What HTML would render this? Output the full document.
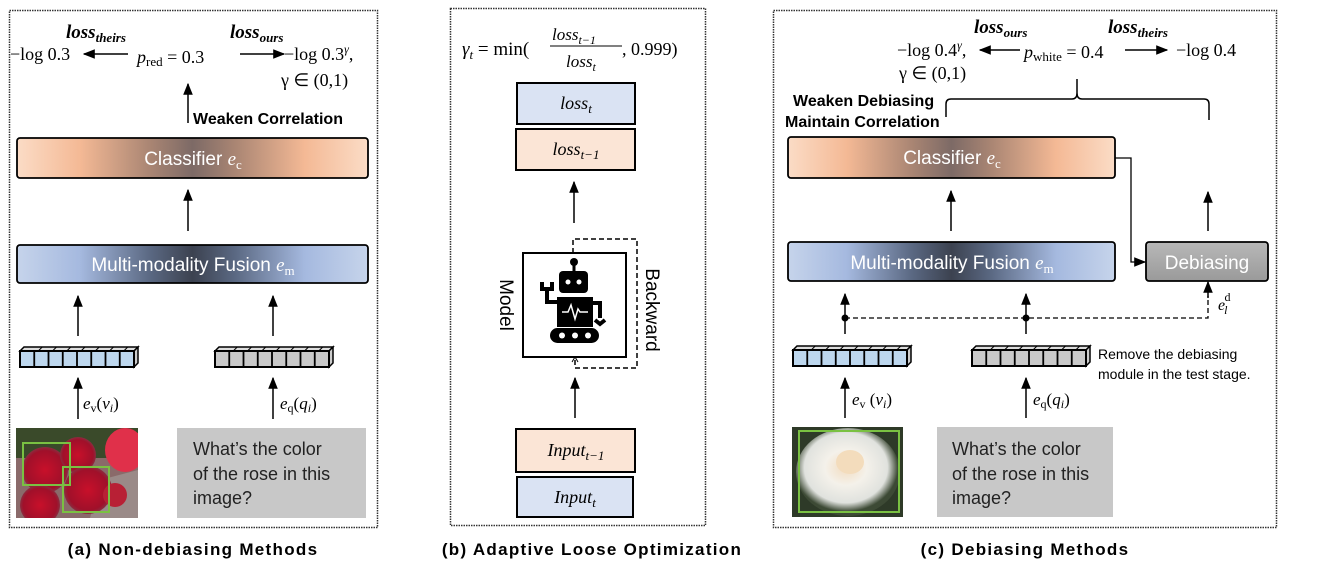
<!DOCTYPE html>
<html><head><meta charset="utf-8"><style>
html,body{margin:0;padding:0;background:#fff;}
svg{display:block;}
.m{font-family:"Liberation Serif",serif;font-style:italic;}
.r{font-family:"Liberation Serif",serif;}
.s{font-family:"Liberation Sans",sans-serif;}
.cap{font-family:"Liberation Sans",sans-serif;font-size:17px;font-weight:bold;letter-spacing:1.3px;}
</style></head><body>
<svg width="1333" height="569" viewBox="0 0 1333 569" xmlns="http://www.w3.org/2000/svg">
<defs>
<marker id="ah2" viewBox="0 0 10 10" refX="9" refY="5" markerWidth="12" markerHeight="12" orient="auto" markerUnits="userSpaceOnUse"><path d="M0,1 L10,5 L0,9 z" fill="#000"/></marker>
<linearGradient id="gc" x1="0" x2="1" y1="0" y2="0">
<stop offset="0" stop-color="#fbdcc6"/><stop offset="0.18" stop-color="#f4b995"/><stop offset="0.38" stop-color="#a98573"/><stop offset="0.5" stop-color="#7d6a66"/><stop offset="0.62" stop-color="#a98573"/><stop offset="0.82" stop-color="#f4b995"/><stop offset="1" stop-color="#fbdcc6"/></linearGradient>
<linearGradient id="gf" x1="0" x2="1" y1="0" y2="0">
<stop offset="0" stop-color="#c6d4eb"/><stop offset="0.18" stop-color="#a5b9df"/><stop offset="0.38" stop-color="#5a6882"/><stop offset="0.5" stop-color="#3c4250"/><stop offset="0.62" stop-color="#5a6882"/><stop offset="0.82" stop-color="#a5b9df"/><stop offset="1" stop-color="#c6d4eb"/></linearGradient>
<linearGradient id="gd" x1="0" x2="0" y1="0" y2="1"><stop offset="0" stop-color="#b8b8b8"/><stop offset="1" stop-color="#9a9a9a"/></linearGradient>
<g id="vec">
<path d="M0,4 L4,0 L118,0 L114,4 z" fill="#ddd" stroke="#000" stroke-width="1.5"/>
<path d="M114,4 L118,0 L118,16 L114,20 z" fill="#ccc" stroke="#000" stroke-width="1.5"/>
<rect x="0" y="4" width="114" height="16" fill="currentColor" stroke="#000" stroke-width="2"/>
<path d="M14.25,4v16M28.5,4v16M42.75,4v16M57,4v16M71.25,4v16M85.5,4v16M99.75,4v16" stroke="#000" stroke-width="1.8"/>
<path d="M18.25,4l4,-4M32.5,4l4,-4M46.75,4l4,-4M61,4l4,-4M75.25,4l4,-4M89.5,4l4,-4M103.75,4l4,-4" stroke="#000" stroke-width="1"/>
</g>
<radialGradient id="rose" cx="0.5" cy="0.5" r="0.6"><stop offset="0" stop-color="#c8102a"/><stop offset="0.7" stop-color="#a0102a"/><stop offset="1" stop-color="#70505a"/></radialGradient>
<radialGradient id="wrose" cx="0.48" cy="0.45" r="0.5"><stop offset="0" stop-color="#f2dcc0"/><stop offset="0.4" stop-color="#f4f1ea"/><stop offset="0.8" stop-color="#e0e2de"/><stop offset="1" stop-color="#3d4a35"/></radialGradient>
</defs>

<!-- ========== Panel A ========== -->
<rect x="9.5" y="10.5" width="368" height="517" fill="none" stroke="#333" stroke-width="1.5" stroke-dasharray="1.5,1"/>
<text x="66" y="38" class="m" font-size="19" font-weight="bold">loss<tspan font-size="13" dy="4">theirs</tspan></text>
<text x="230" y="38" class="m" font-size="19" font-weight="bold">loss<tspan font-size="13" dy="4">ours</tspan></text>
<text x="10" y="60" class="r" font-size="18">−log 0.3</text>
<line x1="128" y1="54" x2="84" y2="54" stroke="#000" stroke-width="1.5" marker-end="url(#ah2)"/>
<text x="137" y="63" class="m" font-size="18">p<tspan class="r" font-style="normal" font-size="13" dy="3">red</tspan><tspan class="r" font-style="normal" font-size="18" dy="-3"> = 0.3</tspan></text>
<line x1="240" y1="54" x2="284" y2="54" stroke="#000" stroke-width="1.5" marker-end="url(#ah2)"/>
<text x="284" y="60" class="r" font-size="18">−log 0.3<tspan class="m" font-size="12" dy="-7">γ</tspan><tspan dy="7">,</tspan></text>
<text x="281" y="86" class="r" font-size="18">γ ∈ (0,1)</text>
<line x1="188" y1="123" x2="188" y2="84" stroke="#000" stroke-width="1.5" marker-end="url(#ah2)"/>
<text x="193" y="124" class="s" font-size="16" font-weight="bold">Weaken Correlation</text>
<rect x="17" y="138" width="351" height="40" rx="3" fill="url(#gc)" stroke="#000" stroke-width="1.8"/>
<text x="193" y="165" class="s" font-size="19" fill="#fff" text-anchor="middle">Classifier <tspan class="m">e</tspan><tspan class="r" font-size="13" dy="4">c</tspan></text>
<line x1="188" y1="231" x2="188" y2="190" stroke="#000" stroke-width="1.5" marker-end="url(#ah2)"/>
<rect x="17" y="245" width="351" height="38" rx="3" fill="url(#gf)" stroke="#000" stroke-width="1.8"/>
<text x="193" y="271" class="s" font-size="19" fill="#fff" text-anchor="middle">Multi-modality Fusion <tspan class="m">e</tspan><tspan class="r" font-size="13" dy="4">m</tspan></text>
<line x1="78" y1="336" x2="78" y2="296" stroke="#000" stroke-width="1.5" marker-end="url(#ah2)"/>
<line x1="273" y1="336" x2="273" y2="296" stroke="#000" stroke-width="1.5" marker-end="url(#ah2)"/>
<use href="#vec" x="20" y="347" color="#bdd7ee"/>
<use href="#vec" x="215" y="347" color="#c9c9c9"/>
<line x1="78" y1="419" x2="78" y2="378" stroke="#000" stroke-width="1.5" marker-end="url(#ah2)"/>
<text x="83" y="409" class="m" font-size="17">e<tspan class="r" font-style="normal" font-size="12" dy="3">v</tspan><tspan class="r" font-style="normal" dy="-3">(</tspan>v<tspan font-size="12" dy="3">i</tspan><tspan class="r" font-style="normal" dy="-3">)</tspan></text>
<line x1="273" y1="419" x2="273" y2="378" stroke="#000" stroke-width="1.5" marker-end="url(#ah2)"/>
<text x="280" y="409" class="m" font-size="17">e<tspan class="r" font-style="normal" font-size="12" dy="3">q</tspan><tspan class="r" font-style="normal" dy="-3">(</tspan>q<tspan font-size="12" dy="3">i</tspan><tspan class="r" font-style="normal" dy="-3">)</tspan></text>
<svg x="16" y="428" width="122" height="90" viewBox="16 428 122 90">
<rect x="16" y="428" width="122" height="90" fill="#8a6a6a"/>
<rect x="16" y="428" width="122" height="30" fill="#3a4a2a"/>
<ellipse cx="125" cy="450" rx="20" ry="22" fill="#e0304a"/>
<path d="M100,480 L138,470 L138,518 L90,518 z" fill="#9a8a88"/>
<circle cx="45" cy="470" r="23" fill="url(#rose)"/>
<circle cx="78" cy="455" r="18" fill="url(#rose)"/>
<circle cx="88" cy="490" r="24" fill="url(#rose)"/>
<circle cx="40" cy="505" r="20" fill="url(#rose)"/>
<circle cx="115" cy="495" r="12" fill="#b82035"/>
</svg>
<rect x="23" y="443" width="47" height="42" fill="none" stroke="#7ac142" stroke-width="2"/>
<rect x="63" y="467" width="46" height="45" fill="none" stroke="#7ac142" stroke-width="2"/>
<rect x="177" y="428" width="189" height="90" fill="#c8c8c8"/>
<text class="s" font-size="18" fill="#222"><tspan x="193" y="455">What’s the color</tspan><tspan x="193" y="480">of the rose in this</tspan><tspan x="193" y="504">image?</tspan></text>
<text x="193" y="555" class="cap" text-anchor="middle">(a) Non-debiasing Methods</text>

<!-- ========== Panel B ========== -->
<rect x="450.5" y="8.5" width="255" height="517" fill="none" stroke="#333" stroke-width="1.5" stroke-dasharray="1.5,1"/>
<text x="462" y="55" class="m" font-size="19">γ<tspan font-size="13" dy="4">t</tspan><tspan class="r" font-style="normal" dy="-4"> = min(</tspan></text>
<text x="552" y="40" class="m" font-size="17">loss<tspan font-size="12" dy="4">t−1</tspan></text>
<line x1="550" y1="46" x2="622" y2="46" stroke="#000" stroke-width="1"/>
<text x="566" y="67" class="m" font-size="17">loss<tspan font-size="12" dy="4">t</tspan></text>
<text x="622" y="55" class="r" font-size="18">, 0.999)</text>
<rect x="517" y="83" width="118" height="41" fill="#dae3f3" stroke="#000" stroke-width="2"/>
<text x="576" y="109" class="m" font-size="18" text-anchor="middle">loss<tspan font-size="13" dy="4">t</tspan></text>
<rect x="516" y="129" width="119" height="41" fill="#fbe5d6" stroke="#000" stroke-width="2"/>
<text x="576" y="155" class="m" font-size="18" text-anchor="middle">loss<tspan font-size="13" dy="4">t−1</tspan></text>
<line x1="574" y1="223" x2="574" y2="182" stroke="#000" stroke-width="1.5" marker-end="url(#ah2)"/>
<path d="M573,253 L573,239 L637,239 L637,368 L575,368 L575,360" fill="none" stroke="#000" stroke-width="1.5" stroke-dasharray="5,3"/>
<path d="M572,362 L575,357 L578,362" fill="none" stroke="#000" stroke-width="1"/>
<rect x="523" y="253" width="103" height="104" fill="#fff" stroke="#000" stroke-width="2"/>
<circle cx="574" cy="262" r="4" fill="#000"/>
<rect x="572.5" y="262" width="3" height="9" fill="#000"/>
<rect x="559" y="271" width="29" height="22" rx="4" fill="#000"/>
<circle cx="568" cy="282" r="2.5" fill="#fff"/><circle cx="579" cy="282" r="2.5" fill="#fff"/>
<rect x="557" y="297" width="36" height="30" fill="#000"/>
<path d="M562,312 L568,312 L571,305 L575,319 L578,309 L580,312 L588,312" fill="none" stroke="#fff" stroke-width="1.5"/>
<path d="M557,302 L547,302 L547,287" fill="none" stroke="#000" stroke-width="4"/>
<path d="M542,282 L542,289 L552,289 L552,282" fill="none" stroke="#000" stroke-width="4"/>
<path d="M593,303 L600,303 L600,318" fill="none" stroke="#000" stroke-width="4"/>
<path d="M595,320 L600,324 L605,320" fill="none" stroke="#000" stroke-width="4"/>
<rect x="550" y="328" width="49" height="15" rx="7.5" fill="#000"/>
<circle cx="562" cy="335.5" r="3" fill="#fff"/><circle cx="575" cy="335.5" r="3" fill="#fff"/><circle cx="588" cy="335.5" r="3" fill="#fff"/>
<text transform="translate(500,305) rotate(90)" class="s" font-size="19" text-anchor="middle">Model</text>
<text transform="translate(646,310) rotate(90)" class="s" font-size="19" text-anchor="middle">Backward</text>
<line x1="575" y1="418" x2="575" y2="378" stroke="#000" stroke-width="1.5" marker-end="url(#ah2)"/>
<rect x="516" y="429" width="119" height="43" fill="#fbe5d6" stroke="#000" stroke-width="2"/>
<text x="576" y="456" class="m" font-size="18" text-anchor="middle">Input<tspan font-size="13" dy="4">t−1</tspan></text>
<rect x="517" y="477" width="116" height="40" fill="#dae3f3" stroke="#000" stroke-width="2"/>
<text x="575" y="503" class="m" font-size="18" text-anchor="middle">Input<tspan font-size="13" dy="4">t</tspan></text>
<text x="592" y="555" class="cap" text-anchor="middle">(b) Adaptive Loose Optimization</text>

<!-- ========== Panel C ========== -->
<rect x="773.5" y="10.5" width="503" height="517" fill="none" stroke="#333" stroke-width="1.5" stroke-dasharray="1.5,1"/>
<text x="974" y="33" class="m" font-size="19" font-weight="bold">loss<tspan font-size="13" dy="4">ours</tspan></text>
<text x="1108" y="33" class="m" font-size="19" font-weight="bold">loss<tspan font-size="13" dy="4">theirs</tspan></text>
<text x="897" y="56" class="r" font-size="18">−log 0.4<tspan class="m" font-size="12" dy="-7">γ</tspan><tspan dy="7">,</tspan></text>
<line x1="1020" y1="50" x2="980" y2="50" stroke="#000" stroke-width="1.5" marker-end="url(#ah2)"/>
<text x="1024" y="58" class="m" font-size="18">p<tspan class="r" font-style="normal" font-size="13" dy="3">white</tspan><tspan class="r" font-style="normal" font-size="18" dy="-3"> = 0.4</tspan></text>
<line x1="1125" y1="50" x2="1167" y2="50" stroke="#000" stroke-width="1.5" marker-end="url(#ah2)"/>
<text x="1176" y="56" class="r" font-size="18">−log 0.4</text>
<text x="899" y="79" class="r" font-size="18">γ ∈ (0,1)</text>
<path d="M946,117 L946,104 Q946,99 951,99 L1072,99 Q1077,99 1077,93 L1077,79 M1077,93 Q1077,99 1082,99 L1204,99 Q1209,99 1209,104 L1209,120" fill="none" stroke="#000" stroke-width="1.5"/>
<text x="793" y="106" class="s" font-size="16" font-weight="bold">Weaken Debiasing</text>
<text x="785" y="127" class="s" font-size="16" font-weight="bold">Maintain Correlation</text>
<rect x="788" y="137" width="327" height="41" rx="3" fill="url(#gc)" stroke="#000" stroke-width="1.8"/>
<text x="952" y="164" class="s" font-size="19" fill="#fff" text-anchor="middle">Classifier <tspan class="m">e</tspan><tspan class="r" font-size="13" dy="4">c</tspan></text>
<path d="M1115,158 L1131,158 L1131,262 L1145,262" fill="none" stroke="#000" stroke-width="1.3" marker-end="url(#ah2)"/>
<line x1="951" y1="231" x2="951" y2="191" stroke="#000" stroke-width="1.5" marker-end="url(#ah2)"/>
<line x1="1208" y1="231" x2="1208" y2="192" stroke="#000" stroke-width="1.5" marker-end="url(#ah2)"/>
<rect x="788" y="242" width="327" height="39" rx="3" fill="url(#gf)" stroke="#000" stroke-width="1.8"/>
<text x="952" y="269" class="s" font-size="19" fill="#fff" text-anchor="middle">Multi-modality Fusion <tspan class="m">e</tspan><tspan class="r" font-size="13" dy="4">m</tspan></text>
<rect x="1146" y="242" width="122" height="39" rx="3" fill="url(#gd)" stroke="#000" stroke-width="1.8"/>
<text x="1207" y="269" class="s" font-size="19" fill="#fff" text-anchor="middle">Debiasing</text>
<line x1="845" y1="334" x2="845" y2="294" stroke="#000" stroke-width="1.5" marker-end="url(#ah2)"/>
<line x1="1026" y1="334" x2="1026" y2="294" stroke="#000" stroke-width="1.5" marker-end="url(#ah2)"/>
<path d="M845,318 L1208,318 L1208,296" fill="none" stroke="#000" stroke-width="1.3" stroke-dasharray="5,3"/>
<line x1="1208" y1="298" x2="1208" y2="282" stroke="#000" stroke-width="1.5" marker-end="url(#ah2)"/>
<circle cx="845" cy="318" r="3.5" fill="#000"/><circle cx="1026" cy="318" r="3.5" fill="#000"/>
<text x="1218" y="310" class="m" font-size="16">e<tspan font-size="12" dx="-1" dy="4">l</tspan><tspan class="r" font-style="normal" font-size="12" dx="-3" dy="-13">d</tspan></text>
<use href="#vec" x="793" y="346" color="#bdd7ee"/>
<use href="#vec" x="972" y="346" color="#c9c9c9"/>
<text x="1098" y="359" class="s" font-size="14">Remove the debiasing</text>
<text x="1098" y="379" class="s" font-size="14">module in the test stage.</text>
<line x1="845" y1="418" x2="845" y2="378" stroke="#000" stroke-width="1.5" marker-end="url(#ah2)"/>
<text x="852" y="405" class="m" font-size="17">e<tspan class="r" font-style="normal" font-size="12" dy="3">v</tspan><tspan class="r" font-style="normal" dy="-3"> (</tspan>v<tspan font-size="12" dy="3">i</tspan><tspan class="r" font-style="normal" dy="-3">)</tspan></text>
<line x1="1026" y1="418" x2="1026" y2="378" stroke="#000" stroke-width="1.5" marker-end="url(#ah2)"/>
<text x="1033" y="405" class="m" font-size="17">e<tspan class="r" font-style="normal" font-size="12" dy="3">q</tspan><tspan class="r" font-style="normal" dy="-3">(</tspan>q<tspan font-size="12" dy="3">i</tspan><tspan class="r" font-style="normal" dy="-3">)</tspan></text>
<rect x="792" y="427" width="111" height="90" fill="#2e3a28"/>
<ellipse cx="848" cy="472" rx="52" ry="44" fill="url(#wrose)"/>
<ellipse cx="850" cy="462" rx="14" ry="12" fill="#f3dcbc"/>
<rect x="799" y="431" width="100" height="81" fill="none" stroke="#7ac142" stroke-width="2"/>
<rect x="937" y="427" width="176" height="90" fill="#c8c8c8"/>
<text class="s" font-size="18" fill="#222"><tspan x="952" y="455">What’s the color</tspan><tspan x="952" y="480">of the rose in this</tspan><tspan x="952" y="504">image?</tspan></text>
<text x="1025" y="555" class="cap" text-anchor="middle">(c) Debiasing Methods</text>
</svg>
</body></html>
